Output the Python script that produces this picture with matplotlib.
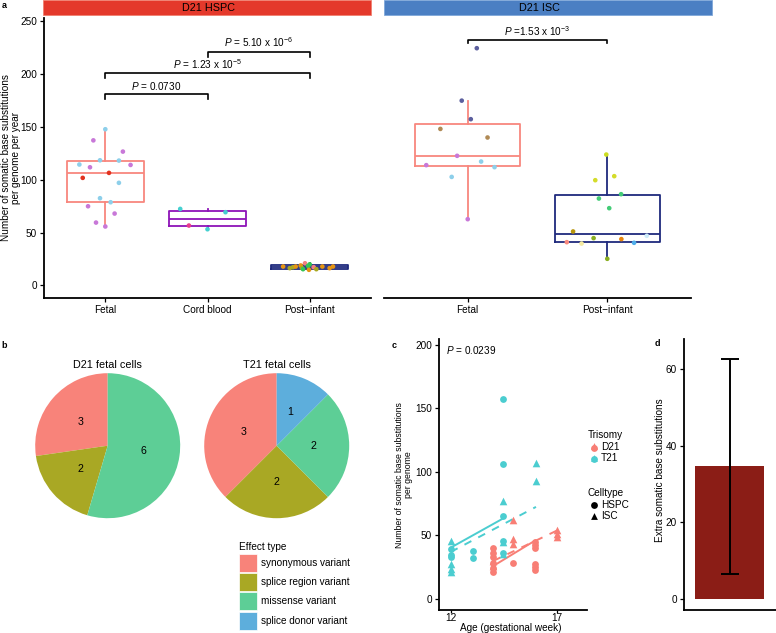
import matplotlib
matplotlib.use("Agg")
import matplotlib.pyplot as plt
from matplotlib.patches import Rectangle

plt.rcParams["font.family"] = ["Liberation Sans", "DejaVu Sans"]
plt.rcParams["mathtext.fontset"] = "custom"
plt.rcParams["mathtext.rm"] = "Liberation Sans"
plt.rcParams["mathtext.it"] = "Liberation Sans:italic"

W, H = 776, 633
FS = 7.2

# ---- panel a data ----
hspc_groups = ["Fetal", "Cord blood", "Post\u2212infant"]
hspc_q1 = [78.9, 55.7, 16.0]
hspc_med = [106.3, 63.2, 17.6]
hspc_q3 = [117.9, 70.1, 19.2]
hspc_lo = [55.7, 53.1, 14.8]
hspc_hi = [147.5, 72.3, 21.0]

isc_groups = ["Fetal", "Post\u2212infant"]
isc_q1 = [112.6, 41.5]
isc_med = [122.6, 48.8]
isc_q3 = [152.2, 85.3]
isc_lo = [62.6, 25.2]
isc_hi = [174.2, 123.6]

SKY, PUR, RED = "#8DCFEA", "#C878D8", "#E2321E"
TUR, PNK = "#45D0D0", "#E83C8C"
ORA, OLV, GRN, SAL = "#E69512", "#A8A820", "#33C455", "#F28080"
NAV, BRN = "#5C5F9E", "#B08A55"

hspc_fetal_vals = [147.5, 137, 126.4, 114.2, 111.6, 118.2, 117.9, 113.8, 101.6,
                   106.3, 96.9, 82.4, 78.6, 74.8, 67.9, 59.4, 55.7]
hspc_fetal_jit = [0, -0.117, 0.172, -0.254, -0.150, -0.052, 0.133, 0.247, -0.221,
                  0.036, 0.133, -0.052, 0.052, -0.169, 0.091, -0.091, 0]
hspc_fetal_cols = [SKY, PUR, PUR, SKY, PUR, SKY, SKY, PUR, RED,
                   RED, SKY, SKY, SKY, PUR, PUR, PUR, PUR]

hspc_cord_vals = [72.3, 69.2, 56.6, 53.1]
hspc_cord_jit = [-0.267, 0.176, -0.182, 0]
hspc_cord_cols = [TUR, TUR, PNK, TUR]

hspc_post_vals = [17.9, 16.4, 17.3, 17.9, 18.9, 16.4, 15.4, 21.0, 18.5, 14.8,
                  20.0, 17.3, 15.4, 17.9, 16.4, 17.9]
hspc_post_jit = [-0.26, -0.195, -0.163, -0.137, -0.088, -0.075, -0.065, -0.046,
                 -0.016, -0.007, 0, 0.039, 0.065, 0.124, 0.195, 0.228]
hspc_post_cols = [ORA, OLV, OLV, ORA, ORA, OLV, GRN, SAL, GRN, ORA,
                  GRN, SAL, OLV, ORA, ORA, ORA]

isc_fetal_vals = [224, 174.5, 157, 147.8, 139.7, 122.4, 113.6, 117, 111.7, 102.5, 62.6]
isc_fetal_jit = [0.065, -0.043, 0.022, -0.196, 0.142, -0.076, -0.297, 0.096, 0.192, -0.115, 0]
isc_fetal_cols = [NAV, NAV, NAV, BRN, BRN, PUR, PUR, SKY, SKY, SKY, PUR]

isc_post_vals = [123.6, 103.2, 99.4, 86.2, 82.1, 73, 51, 40.9, 39.6, 44.7, 43.8, 40.3, 46.9, 25.2]
isc_post_jit = [-0.007, 0.05, -0.086, 0.099, -0.06, 0.014, -0.245, -0.29, -0.184,
                -0.098, 0.101, 0.192, 0.283, 0]
isc_post_cols = ["#CCDD22", "#D4DC2A", "#D4DC2A", "#44CC77", "#44CC77", "#44CC77",
                 "#B8960C", "#F88A7E", "#F5EBA0", "#8AAF22", "#E6840E", "#4FAEEA",
                 "#CDEBF8", "#8AAF22"]

hspc_pairs = [(1, 2), (1, 3), (2, 3)]
hspc_bracket_y = [180.5, 200.3, 220.8]
hspc_p_labels = [r"$\it{P}$ = 0.0730", r"$\it{P}$ = 1.23 x 10$^{-5}$",
                 r"$\it{P}$ = 5.10 x 10$^{-6}$"]
isc_pairs = [(1, 2)]
isc_bracket_y = [231.8]
isc_p_labels = [r"$\it{P}$ =1.53 x 10$^{-3}$"]

# ---- panel b data ----
effect_types = ["synonymous variant", "splice region variant", "missense variant",
                "splice donor variant"]
effect_colors = ["#F8837A", "#A9A824", "#5DCE96", "#5DAEDC"]
d21_counts = [3, 2, 6, 0]
t21_counts = [3, 2, 2, 1]

# ---- panel c data ----
t21_hspc_wk = [12, 12, 12, 13.06, 13.06, 14.47, 14.47, 14.47, 14.47, 14.47]
t21_hspc_val = [39, 34.6, 32.8, 38, 32, 157.5, 106, 65.6, 46, 36]
t21_isc_wk = [12, 12, 12, 12, 14.47, 14.47, 14.47, 16, 16]
t21_isc_val = [45.7, 27.6, 23.6, 21, 77, 45, 35.5, 107.3, 93.1]
d21_hspc_wk = [14, 14, 14, 14, 14, 14, 14.94, 15.96, 15.96, 15.96, 15.96, 15.96, 15.96]
d21_hspc_val = [40, 36, 33, 28, 24, 21, 28.6, 45, 42.5, 40, 27.6, 25, 22.8]
d21_isc_wk = [14, 14, 14.94, 14.94, 14.94, 16.98, 16.98, 16.98]
d21_isc_val = [30, 26, 62, 47.5, 43.5, 54, 51, 49]

fit_t21_hspc = ([12, 14.47], [40.4, 63.5])
fit_t21_isc = ([12, 16], [37, 72.5])
fit_d21_hspc = ([14, 15.96], [26, 46])
fit_d21_isc = ([14, 17], [30, 54])

# ---- panel d data ----
d_value = [34.6]
d_err_lo = [6.5]
d_err_hi = [62.5]

C_RED, C_CYN = "#F87E75", "#4BCDD0"

fig = plt.figure(figsize=(W / 100, H / 100), dpi=100)


def px_axes(x0, y0, x1, y1):
    return fig.add_axes([x0 / W, 1 - y1 / H, (x1 - x0) / W, (y1 - y0) / H])


def style(ax, left=True):
    for s in ["top", "right"]:
        ax.spines[s].set_visible(False)
    ax.spines["left"].set_visible(left)
    for s in ["left", "bottom"]:
        ax.spines[s].set_linewidth(1.3)
    ax.tick_params(length=3, width=0.9, labelsize=FS, colors="black", pad=2)
    ax.patch.set_visible(False)


def boxes(ax, q1, med, q3, lo, hi, cols):
    stats = [dict(q1=a, med=m, q3=b, whislo=l, whishi=h, fliers=[])
             for a, m, b, l, h in zip(q1, med, q3, lo, hi)]
    art = ax.bxp(stats, positions=range(1, len(stats) + 1), widths=0.75,
                 showfliers=False, showcaps=False, manage_ticks=False)
    for i, c in enumerate(cols):
        art["boxes"][i].set(color=c, linewidth=1.3)
        art["medians"][i].set(color=c, linewidth=1.3)
        art["whiskers"][2 * i].set(color=c, linewidth=1.3)
        art["whiskers"][2 * i + 1].set(color=c, linewidth=1.3)


def jitter(ax, pos, vals, jit, cols):
    ax.scatter([pos + j for j in jit], vals, s=11, c=cols, linewidths=0, zorder=3)


def brackets(ax, pairs, ys, labels, drop=4.7):
    for (a, b), y, lab in zip(pairs, ys, labels):
        ax.plot([a, a, b, b], [y - drop, y, y, y - drop], color="black", lw=1.2,
                clip_on=False)
        ax.text((a + b) / 2, y + 2, lab, ha="center", va="bottom", fontsize=FS)


# panel a, HSPC
axL = px_axes(44, 18, 371, 298)
style(axL)
axL.set_xlim(0.4, 3.6)
axL.set_ylim(-11.8, 252.5)
boxes(axL, hspc_q1, hspc_med, hspc_q3, hspc_lo, hspc_hi, ["#F8877E", "#8E14B8", "#1F2A7D"])
jitter(axL, 1, hspc_fetal_vals, hspc_fetal_jit, hspc_fetal_cols)
jitter(axL, 2, hspc_cord_vals, hspc_cord_jit, hspc_cord_cols)
jitter(axL, 3, hspc_post_vals, hspc_post_jit, hspc_post_cols)
brackets(axL, hspc_pairs, hspc_bracket_y, hspc_p_labels)
axL.set_xticks([1, 2, 3], hspc_groups)
axL.set_yticks([0, 50, 100, 150, 200, 250])

# panel a, ISC
axR = px_axes(384, 18, 691, 298)
style(axR, left=False)
axR.set_xlim(0.4, 2.6)
axR.set_ylim(-11.8, 252.5)
boxes(axR, isc_q1, isc_med, isc_q3, isc_lo, isc_hi, ["#F8877E", "#1F2A7D"])
jitter(axR, 1, isc_fetal_vals, isc_fetal_jit, isc_fetal_cols)
jitter(axR, 2, isc_post_vals, isc_post_jit, isc_post_cols)
brackets(axR, isc_pairs, isc_bracket_y, isc_p_labels, drop=3.1)
axR.set_xticks([1, 2], isc_groups)
axR.set_yticks([])

# panel b, pies
for cx, counts, title in [(107.7, d21_counts, "D21 fetal cells"),
                          (276.7, t21_counts, "T21 fetal cells")]:
    axp = px_axes(cx - 72.5, 445.7 - 72.5, cx + 72.5, 445.7 + 72.5)
    keep = [i for i, n in enumerate(counts) if n > 0]
    vals = [counts[i] for i in keep]
    tot = sum(vals)
    axp.pie(vals, colors=[effect_colors[i] for i in keep], startangle=90,
            counterclock=True, radius=1, pctdistance=0.5,
            autopct=lambda p, t=tot: f"{round(p * t / 100)}",
            textprops=dict(fontsize=FS + 0.5, color="black"))
    axp.set_xlim(-1, 1)
    axp.set_ylim(-1, 1)
    axp.set_aspect("equal")
    fig.text(cx / W, 1 - 365 / H, title, ha="center", va="center", fontsize=FS + 0.6)

# panel c
axc = px_axes(439, 339.3, 586.7, 610)
style(axc)
axc.tick_params(axis="x", length=2, pad=0.5)
axc.set_xlim(11.45, 18.38)
axc.set_ylim(-8.7, 204.5)
axc.plot(*fit_t21_hspc, color=C_CYN, lw=1.4)
axc.plot(*fit_t21_isc, color=C_CYN, lw=1.4, ls=(0, (4, 4)))
axc.plot(*fit_d21_hspc, color=C_RED, lw=1.4)
axc.plot(*fit_d21_isc, color=C_RED, lw=1.4, ls=(0, (4, 4)))
axc.scatter(t21_hspc_wk, t21_hspc_val, s=24, marker="o", c=C_CYN, linewidths=0, zorder=3)
axc.scatter(t21_isc_wk, t21_isc_val, s=30, marker="^", c=C_CYN, linewidths=0, zorder=3)
axc.scatter(d21_hspc_wk, d21_hspc_val, s=24, marker="o", c=C_RED, linewidths=0, zorder=3)
axc.scatter(d21_isc_wk, d21_isc_val, s=30, marker="^", c=C_RED, linewidths=0, zorder=3)
axc.set_xticks([12, 17])
axc.set_yticks([0, 50, 100, 150, 200])

# panel d
axd = px_axes(684, 339.3, 776, 610)
style(axd)
axd.set_xlim(0.4, 1.61)
axd.set_ylim(-2.87, 67.7)
axd.bar([1], d_value, width=0.9, color="#8B1D16")
axd.errorbar([1], d_value, yerr=[[d_value[0] - d_err_lo[0]], [d_err_hi[0] - d_value[0]]],
             fmt="none", ecolor="black", elinewidth=1.4, capsize=6.7, capthick=1.4)
axd.set_xticks([])
axd.set_yticks([0, 20, 40, 60])

# overlay in pixel coordinates for strips, labels and legends
ov = fig.add_axes([0, 0, 1, 1])
ov.set_xlim(0, W)
ov.set_ylim(H, 0)
ov.axis("off")
ov.patch.set_visible(False)

ov.add_patch(Rectangle((43, 0), 328, 15, facecolor="#E4392B", edgecolor="#F08070", lw=0.6))
ov.add_patch(Rectangle((384, 0), 328, 15, facecolor="#4B7FC3", edgecolor="#80A8DA", lw=0.6))
ov.text(209, 8, "D21 HSPC", ha="center", va="center", fontsize=FS + 0.6)
ov.text(539.5, 8, "D21 ISC", ha="center", va="center", fontsize=FS + 0.6)

for x, y, s in [(4, 6, "a"), (4, 346, "b"), (394, 346, "c"), (657, 344, "d")]:
    ov.text(x, y, s, ha="center", va="center", fontsize=6.5, fontweight="bold")

ov.text(11, 158, "Number of somatic base substitutions\nper genome per year",
        rotation=90, ha="center", va="center", fontsize=FS, linespacing=1.1)
ov.text(404, 475, "Number of somatic base substitutions\nper genome",
        rotation=90, ha="center", va="center", fontsize=6.3, linespacing=1.1)
ov.text(511, 628, "Age (gestational week)", ha="center", va="center", fontsize=FS)
ov.text(446, 350, r"$\it{P}$ = 0.0239", ha="left", va="center", fontsize=FS)
ov.text(660, 470, "Extra somatic base substitutions", rotation=90,
        ha="center", va="center", fontsize=FS)

# legend b
ov.text(239, 547, "Effect type", ha="left", va="center", fontsize=FS)
for i, (lab, col) in enumerate(zip(effect_types, effect_colors)):
    y0 = 554 + i * 19.2
    ov.add_patch(Rectangle((239, y0), 17.7, 18, facecolor=col, edgecolor="white", lw=0.5))
    ov.text(261, y0 + 9, lab, ha="left", va="center", fontsize=FS)

# legend c
ov.text(588, 435, "Trisomy", ha="left", va="center", fontsize=FS)
for y, lab, col in [(446.7, "D21", C_RED), (458.3, "T21", C_CYN)]:
    ov.scatter([593.5], [y + 0.8], s=24, marker="o", c=col, linewidths=0)
    ov.scatter([593.5], [y - 0.8], s=24, marker="^", c=col, linewidths=0)
    ov.text(601, y, lab, ha="left", va="center", fontsize=FS)
ov.text(588, 493.3, "Celltype", ha="left", va="center", fontsize=FS)
for y, lab, m in [(505, "HSPC", "o"), (516, "ISC", "^")]:
    ov.scatter([593.5], [y], s=24, marker=m, c="black", linewidths=0)
    ov.text(601, y, lab, ha="left", va="center", fontsize=FS)

fig.savefig("out.png", dpi=100)
